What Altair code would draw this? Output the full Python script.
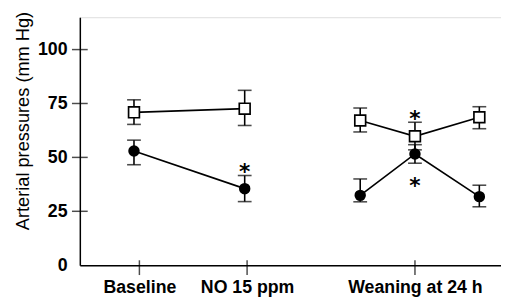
import altair as alt
import pandas as pd

# x positions along the time axis (arbitrary units)
xs = [0.90, 2.74, 4.66, 5.57, 6.64]
segment = ["A", "A", "B", "B", "B"]

square_mean = [70.9, 72.6, 67.1, 59.8, 68.6]
square_lo = [65.3, 64.8, 61.8, 53.5, 63.3]
square_hi = [76.7, 81.1, 72.9, 66.3, 73.5]

circle_mean = [53.0, 35.5, 32.4, 51.6, 31.8]
circle_lo = [46.6, 29.5, 29.4, 47.3, 27.1]
circle_hi = [58.0, 41.6, 40.0, 55.9, 37.1]

star_x = [2.74, 5.57, 5.57]
star_y = [46.3, 70.9, 39.7]

xtick_vals = [0.99, 2.78, 5.57]
xtick_labels = ["Baseline", "NO 15 ppm", "Weaning at 24 h"]
ytick_vals = [0, 25, 50, 75, 100]
ytick_marks = [25, 50, 75, 100]

FONT = "Liberation Sans"

sq = pd.DataFrame({"x": xs, "seg": segment, "m": square_mean, "lo": square_lo, "hi": square_hi})
ci = pd.DataFrame({"x": xs, "seg": segment, "m": circle_mean, "lo": circle_lo, "hi": circle_hi})
stars = pd.DataFrame({"x": star_x, "y": star_y})
yt = pd.DataFrame({"v": ytick_marks})
xt = pd.DataFrame({"v": xtick_vals})

label_expr = " : ".join(
    [f"abs(datum.value - {v}) < 0.01 ? '{l}'" for v, l in zip(xtick_vals, xtick_labels)]
) + " : ''"

xscale = alt.Scale(domain=[0, 7], nice=False, zero=False)
yscale = alt.Scale(domain=[0, 115], nice=False)

xaxis = alt.Axis(
    values=xtick_vals, labelExpr=label_expr, ticks=False, tickSize=0, grid=False,
    domainColor="black", domainWidth=1.5, labelFont=FONT, labelFontSize=18,
    labelFontWeight="bold", labelColor="black", labelPadding=14, title=None,
    labelFlush=False, labelOverlap=False,
)
yaxis = alt.Axis(
    values=ytick_vals, ticks=False, tickSize=0, grid=False, domainColor="black",
    domainWidth=1.5, labelFont=FONT, labelFontSize=18, labelFontWeight="bold",
    labelColor="black", labelPadding=13, title="Arterial pressures (mm Hg)",
    titleFont=FONT, titleFontSize=18.5, titleFontWeight="normal", titleColor="black",
    titleX=-52, titleY=105, titleAngle=-90, titleBaseline="alphabetic", titleAlign="center",
)

X = alt.X("x:Q", scale=xscale, axis=xaxis)
Y = alt.Y("m:Q", scale=yscale, axis=yaxis)


def series(df, shape, filled):
    base = alt.Chart(df)
    line = base.mark_line(color="black", strokeWidth=1.7).encode(x=X, y=Y, detail="seg:N")
    rule = base.mark_rule(color="black", strokeWidth=1.6).encode(
        x=alt.X("x:Q", scale=xscale), y=alt.Y("lo:Q", scale=yscale), y2="hi:Q")
    cap_lo = base.mark_tick(color="black", size=14, thickness=1.6, orient="horizontal").encode(
        x=alt.X("x:Q", scale=xscale), y=alt.Y("lo:Q", scale=yscale))
    cap_hi = base.mark_tick(color="black", size=14, thickness=1.6, orient="horizontal").encode(
        x=alt.X("x:Q", scale=xscale), y=alt.Y("hi:Q", scale=yscale))
    if filled:
        pt = base.mark_point(shape=shape, filled=True, color="black", size=135, opacity=1).encode(x=X, y=Y)
    else:
        pt = base.mark_point(shape=shape, filled=False, fill="white", fillOpacity=1,
                             stroke="black", strokeWidth=1.7, size=121, opacity=1).encode(x=X, y=Y)
    return [line, rule, cap_lo, cap_hi, pt]


ytick_layer = alt.Chart(yt).mark_tick(color="black", size=16, thickness=1.5, orient="horizontal").encode(
    x=alt.value(0), y=alt.Y("v:Q", scale=yscale))
xtick_layer = alt.Chart(xt).mark_tick(color="black", size=15, thickness=1.5, orient="vertical").encode(
    x=alt.X("v:Q", scale=xscale), y=alt.value(254.5))

star_layer = alt.Chart(stars).mark_text(
    text="*", font="DejaVu Sans", fontSize=22, fontWeight="bold", color="black",
    baseline="alphabetic", dy=14).encode(
    x=alt.X("x:Q", scale=xscale), y=alt.Y("y:Q", scale=yscale))

layers = series(ci, "circle", True) + series(sq, "square", False)
chart = alt.layer(*layers, ytick_layer, xtick_layer, star_layer).properties(
    width=428, height=252,
    autosize=alt.AutoSizeParams(type="none"),
    padding={"left": 73, "top": 7, "right": 0, "bottom": 35},
).configure_view(stroke=None).configure(background="white")

chart.save("out.html", embed_options={"renderer": "svg", "actions": False})
